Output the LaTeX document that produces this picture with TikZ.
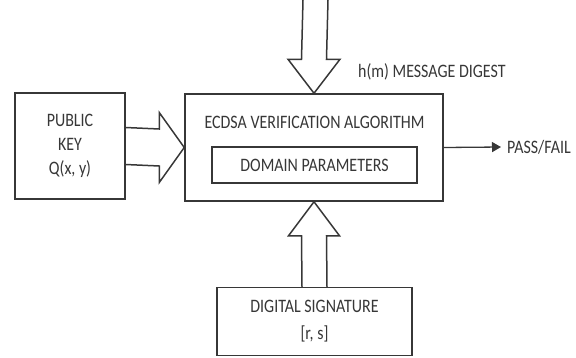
\documentclass[tikz,border=0pt]{standalone}
\usepackage{fontspec}
\setmainfont{Carlito}[FakeStretch=0.84]
\usetikzlibrary{arrows.meta,calc}
\definecolor{ink}{RGB}{55,55,55}
\tikzset{
  blk/.style={draw=ink, line width=1.5pt, fill=white, inner sep=0pt, align=center, text=ink, font=\fontsize{19}{24}\selectfont},
  barrow/.style={draw=ink, line width=1.5pt, line join=miter},
  lbl/.style={text=ink, font=\fontsize{19}{22}\selectfont, inner sep=0pt}
}
\begin{document}
\begin{tikzpicture}[x=1pt,y=-1pt]
\useasboundingbox (0,0) rectangle (576,357);
% boxes
\node[blk, minimum width=110pt, minimum height=106pt] (pk) at (70,146) {PUBLIC\\KEY\\Q(x, y)};
\node[blk, minimum width=258pt, minimum height=107pt] (main) at (314,147.5) {};
\node[lbl] (title) at (314.5,122) {ECDSA VERIFICATION ALGORITHM};
\node[blk, minimum width=205pt, minimum height=36pt] (dom) at (314.5,165) {DOMAIN PARAMETERS};
\node[blk, minimum width=195pt, minimum height=68pt, font=\fontsize{19}{27}\selectfont] (sig) at (314.5,321.5) {DIGITAL SIGNATURE\\{[r, s]}};
\coordinate (topin) at (315.5,0);
\node[lbl, anchor=west] (hm) at (358,72) {h(m) MESSAGE DIGEST};
\node[lbl, anchor=west] (pf) at (507,147) {PASS/FAIL};
\coordinate (pftip) at ($(pf.west)+(-6,0)$);
% left block arrow: public key -> main
\draw[barrow] ($(pk.east)+(0,-18.5)$) -- ($(main.west)+(-25,-18.5)$) -- ($(main.west)+(-25,-35)$)
  -- (main.west) -- ($(main.west)+(-25,35)$) -- ($(main.west)+(-25,18.5)$) -- ($(pk.east)+(0,18.5)$);
% top block arrow: message digest -> main
\draw[barrow] ($(topin)+(-12.5,0)$) -- ($(main.north)+(-12.5,-34)$) -- ($(main.north)+(-26,-34)$)
  -- (main.north) -- ($(main.north)+(26,-34)$) -- ($(main.north)+(12.5,-34)$) -- ($(topin)+(12.5,0)$);
% bottom block arrow: signature -> main
\draw[barrow] ($(sig.north)+(-12.5,0)$) -- ($(main.south)+(-12.5,34)$) -- ($(main.south)+(-25.5,34)$)
  -- (main.south) -- ($(main.south)+(25.5,34)$) -- ($(main.south)+(12.5,34)$) -- ($(sig.north)+(12.5,0)$);
% output
\draw[ink, line width=1.3pt, -{Triangle[length=9pt,width=10pt]}] (main.east) -- (pftip);
\end{tikzpicture}
\end{document}
